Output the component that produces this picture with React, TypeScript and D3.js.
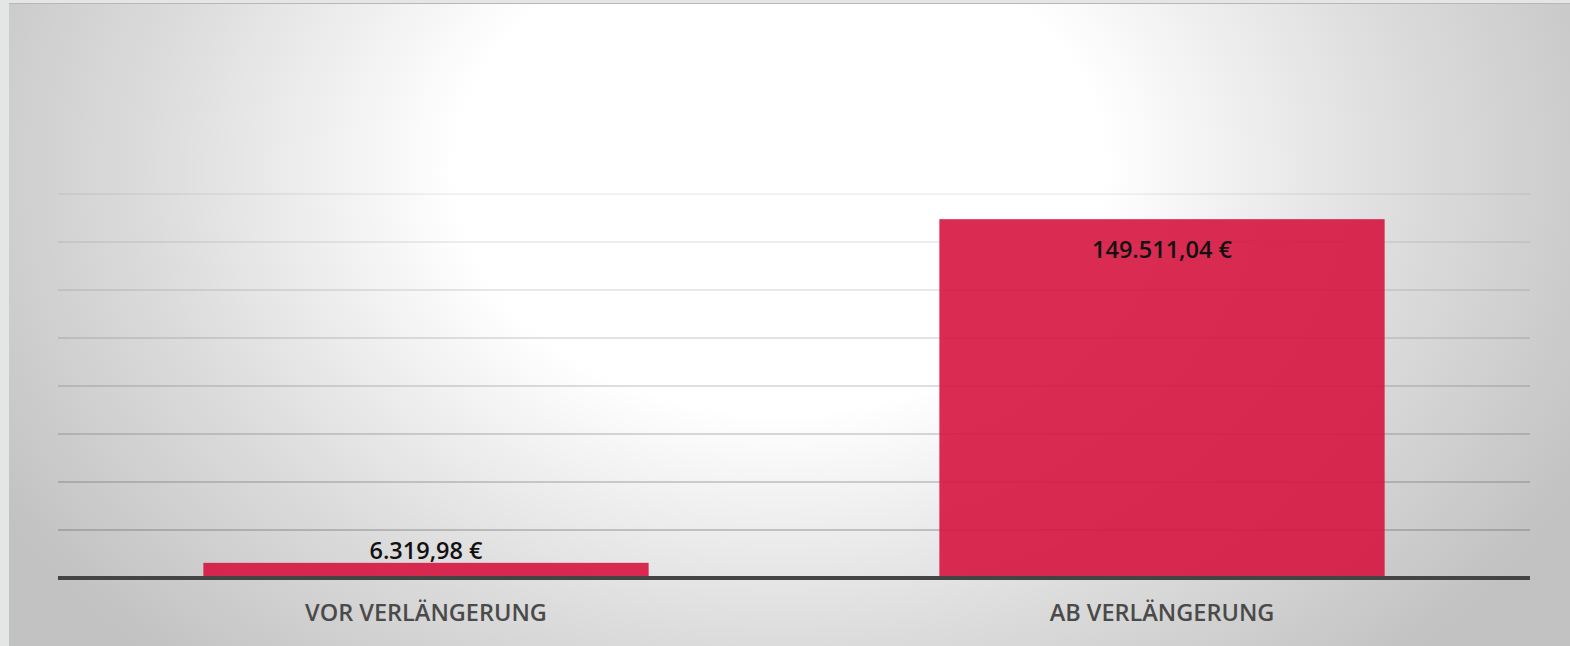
import React from "react";
import * as d3 from "d3";

const categories = ["VOR VERLÄNGERUNG", "AB VERLÄNGERUNG"];
const values = [6319.98, 149511.04];
const valueLabels = ["6.319,98 €", "149.511,04 €"];
const yTicks = [20000, 40000, 60000, 80000, 100000, 120000, 140000, 160000];

const W = 1570;
const H = 646;
const left = 58;
const right = 1530;
const top = 194;
const bottom = 578;

export default function App() {
  const x = d3
    .scaleBand<string>()
    .domain(categories)
    .range([left, right])
    .paddingInner(0.395)
    .paddingOuter(0.1975);
  const y = d3.scaleLinear().domain([0, 160000]).range([bottom, top]);
  const font = "'Open Sans', 'Noto Sans', sans-serif";
  return (
    <svg
      width={W}
      height={H}
      style={{ position: "absolute", left: 0, top: 0, display: "block" }}
    >
      <defs>
        <radialGradient
          id="bg"
          gradientUnits="userSpaceOnUse"
          cx={780}
          cy={170}
          r={900}
          gradientTransform="translate(780,170) scale(1,0.75) translate(-780,-170)"
        >
          <stop offset="0" stopColor="#ffffff" />
          <stop offset="0.36" stopColor="#ffffff" />
          <stop offset="0.7" stopColor="#dcdcdc" />
          <stop offset="1" stopColor="#c2c2c2" />
        </radialGradient>
      </defs>
      <rect x={0} y={0} width={W} height={H} fill="#e4e6e5" />
      <rect x={9} y={3} width={W - 9} height={H - 3} fill="url(#bg)" />
      <line x1={9} x2={W} y1={3.5} y2={3.5} stroke="#b8b8b8" strokeWidth={1} />
      {yTicks.map((t, i) => (
        <line
          key={t}
          x1={left}
          x2={right}
          y1={y(t)}
          y2={y(t)}
          stroke="#555"
          strokeOpacity={0.15 + (yTicks.length - 1 - i) * 0.06}
          strokeWidth={1.2}
        />
      ))}
      {categories.map((c, i) => (
        <rect
          key={c}
          x={x(c)}
          y={y(values[i])}
          width={x.bandwidth()}
          height={bottom - y(values[i])}
          fill="#d6143f"
          fillOpacity={0.9}
        />
      ))}
      <line x1={left} x2={right} y1={bottom} y2={bottom} stroke="#444" strokeWidth={4} />
      {categories.map((c, i) => {
        const cx = (x(c) as number) + x.bandwidth() / 2;
        const barH = bottom - y(values[i]);
        const inside = barH > 40;
        return (
          <text
            key={"v" + c}
            x={cx}
            y={inside ? y(values[i]) + 39 : y(values[i]) - 4}
            textAnchor="middle"
            fontFamily={font}
            fontWeight={600}
            fontSize={23.5}
            fill="#111"
          >
            {valueLabels[i]}
          </text>
        );
      })}
      {categories.map((c) => (
        <text
          key={"c" + c}
          x={(x(c) as number) + x.bandwidth() / 2}
          y={621}
          textAnchor="middle"
          fontFamily={font}
          fontWeight={600}
          fontSize={23.5}
          fill="#4a4a4a"
        >
          {c}
        </text>
      ))}
    </svg>
  );
}
